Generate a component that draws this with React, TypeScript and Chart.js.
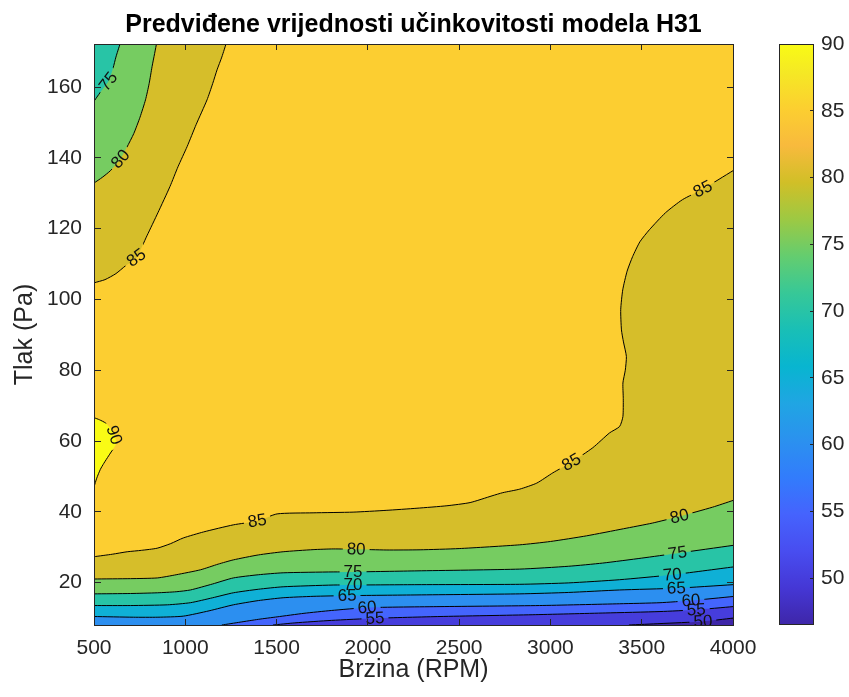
import React, { useEffect, useRef } from "react";
import { Chart, registerables } from "chart.js";

Chart.register(...registerables);

type P = [number, number];

const FONT = '"Liberation Sans", Arial, Helvetica, sans-serif';
Chart.defaults.font.family = FONT;

// ---------- axes / ticks ----------
const xMin = 500;
const xMax = 4000;
const yMin = 8;
const yMax = 172.2;
const xTicks = [500, 1000, 1500, 2000, 2500, 3000, 3500, 4000];
const yTicks = [20, 40, 60, 80, 100, 120, 140, 160];
const cMin = 46.5;
const cMax = 90;
const colorbarTicks = [50, 55, 60, 65, 70, 75, 80, 85, 90];

// ---------- contour lines (Brzina RPM, Tlak Pa) ----------
const c50: P[] = [[3430, 8], [3600, 8.4], [3835, 9.0], [4000, 9.95]];
const c55: P[] = [[1480, 8], [1600, 8.6], [1800, 9.3], [2039, 9.9], [2395, 10.4], [2900, 10.9], [3300, 11.4], [3600, 11.8], [3799, 12.3], [4000, 13.2]];
const c60: P[] = [[1200, 8], [1300, 8.8], [1400, 9.6], [1503, 10.3], [1650, 11.3], [1800, 12.1], [1996, 12.9], [2395, 13.2], [2940, 13.5], [3379, 14.0], [3600, 14.3], [3770, 14.9], [4000, 16.05]];
const c65: P[] = [[500, 10.4], [716, 10.2], [850, 10.2], [989, 10.5], [1130, 12.0], [1263, 13.7], [1400, 14.9], [1536, 15.7], [1700, 16.1], [1886, 16.3], [2269, 16.5], [2832, 16.8], [3100, 17.2], [3379, 17.9], [3690, 18.4], [4000, 19.4]];
const c70: P[] = [[500, 13.5], [700, 13.5], [902, 13.7], [1028, 14.3], [1150, 15.7], [1263, 17.1], [1400, 18.1], [1536, 18.8], [1810, 19.3], [1919, 19.3], [2269, 19.4], [2832, 19.5], [3100, 19.9], [3379, 20.8], [3668, 22.2], [4000, 24.4]];
const c75: P[] = [[500, 16.8], [700, 16.9], [847, 17.1], [950, 17.4], [1028, 17.9], [1150, 19.6], [1263, 21.3], [1400, 22.2], [1536, 22.75], [1810, 23.0], [1919, 23.0], [2269, 23.3], [2832, 23.8], [3100, 24.6], [3286, 25.5], [3500, 26.9], [3696, 28.3], [4000, 30.5]];
const c80: P[] = [[500, 21.0], [700, 21.1], [847, 21.3], [950, 22.2], [1083, 23.6], [1180, 25.2], [1263, 26.4], [1400, 27.8], [1536, 28.7], [1700, 29.3], [1810, 29.5], [1936, 29.4], [2100, 29.2], [2286, 29.25], [2500, 29.6], [2832, 30.66], [3000, 31.6], [3198, 33.2], [3400, 35.2], [3558, 36.8], [3707, 38.7], [3888, 41.3], [4000, 43.2]];
const c85: P[] = [[500, 27.3], [600, 28.0], [682, 28.7], [760, 29.1], [846, 29.7], [920, 31.0], [989, 32.6], [1100, 34.3], [1263, 36.3], [1394, 37.4], [1503, 39.4], [1700, 39.7], [1919, 39.9], [2100, 40.4], [2269, 41.0], [2433, 41.7], [2560, 42.6], [2680, 44.5], [2739, 45.4], [2832, 46.4], [2925, 48.1], [3013, 51.0], [3115, 54.0], [3232, 58.1], [3324, 62.3], [3379, 64.1], [3397, 66.9], [3399, 72], [3397, 76.4], [3410, 80], [3416, 83.9], [3400, 88], [3389, 91.4], [3385, 97.1], [3396, 102.7], [3420, 108], [3450, 112.1], [3490, 116.3], [3542, 119.7], [3630, 124.5], [3723, 128.2], [3835, 131.2], [4000, 136.4]];
const c85TopLeft: P[] = [[500, 104.7], [560, 105.6], [620, 107.3], [672, 109.5], [732, 111.8], [790, 118], [850, 124.5], [916, 131.9], [960, 137.5], [1010, 143.2], [1060, 149.5], [1119, 156.4], [1150, 161], [1174, 164.9], [1200, 168.5], [1228, 173]];
const c80TopLeft: P[] = [[500, 132.9], [545, 134.5], [590, 136.4], [645, 139.7], [680, 143], [718, 146.9], [752, 151.5], [782, 156.4], [802, 161], [818, 165.8], [832, 169.5], [845, 173]];
const c75TopLeft: P[] = [[500, 156], [520, 157.5], [545, 159.3], [579, 161.6], [605, 165.5], [620, 168.5], [635, 171], [648, 173]];
const b90Upper: P[] = [[500, 66.6], [530, 66], [563, 65.1], [590, 63.6], [610, 61.8], [625, 59.5]];
const b90Lower: P[] = [[500, 47.0], [515, 49.5], [535, 52], [554, 53.7], [580, 55.8], [608, 58], [625, 59.5]];

const strokeCurves: [string, P[]][] = [
  ["c50", c50], ["c55", c55], ["c60", c60], ["c65", c65], ["c70", c70], ["c75", c75], ["c80", c80], ["c85", c85],
  ["c85tl", c85TopLeft], ["c80tl", c80TopLeft], ["c75tl", c75TopLeft], ["b90", b90Upper], ["b90", b90Lower],
];

// contour labels: level, curve group, approximate position (data units)
const contourLabels = [
  { level: 75, group: "c75tl", x: 579, y: 161.6 },
  { level: 80, group: "c80tl", x: 645, y: 139.7 },
  { level: 85, group: "c85tl", x: 732, y: 111.8 },
  { level: 90, group: "b90", x: 602, y: 61.5 },
  { level: 85, group: "c85", x: 1394, y: 37.4 },
  { level: 80, group: "c80", x: 1936, y: 29.4 },
  { level: 75, group: "c75", x: 1919, y: 23.0 },
  { level: 70, group: "c70", x: 1919, y: 19.3 },
  { level: 65, group: "c65", x: 1886, y: 16.3 },
  { level: 60, group: "c60", x: 1996, y: 12.9 },
  { level: 55, group: "c55", x: 2039, y: 9.9 },
  { level: 85, group: "c85", x: 3115, y: 54.0 },
  { level: 85, group: "c85", x: 3835, y: 131.2 },
  { level: 80, group: "c80", x: 3707, y: 38.7 },
  { level: 75, group: "c75", x: 3696, y: 28.3 },
  { level: 70, group: "c70", x: 3668, y: 22.2 },
  { level: 65, group: "c65", x: 3690, y: 18.4 },
  { level: 60, group: "c60", x: 3770, y: 14.9 },
  { level: 55, group: "c55", x: 3799, y: 12.3 },
  { level: 50, group: "c50", x: 3835, y: 9.0 },
];

// parula colormap stops [position, r, g, b]
const parula: [number, number, number, number][] = [
  [0 / 63, 62, 38, 168], [4 / 63, 69, 55, 213], [8 / 63, 72, 77, 240], [12 / 63, 69, 99, 253],
  [16 / 63, 50, 124, 252], [20 / 63, 43, 145, 239], [24 / 63, 32, 165, 227], [28 / 63, 8, 181, 208],
  [32 / 63, 25, 191, 182], [36 / 63, 55, 200, 151], [40 / 63, 100, 205, 111], [44 / 63, 157, 201, 67],
  [48 / 63, 209, 191, 39], [52 / 63, 248, 186, 61], [56 / 63, 252, 207, 48], [60 / 63, 245, 233, 36],
  [63 / 63, 249, 251, 21],
];

// ---------- layout / style ----------
const W = 849;
const H = 697;
const plotLeft = 94;
const plotRight = 733;
const plotTop = 44;
const plotBottom = 625;
const cbCanvasLeft = 760;
const cbBarLeft = 779;
const cbBarRight = 814;
const AXIS = "#262626";
const TICK = 6;
const TENSION = 0.2;
const LABEL_FONT = '17px "Liberation Sans", Arial, sans-serif';
const TICK_SIZE = 21;
const LABEL_SIZE = 25;

function cmap(t: number): string {
  const v = Math.min(1, Math.max(0, t));
  for (let i = 0; i < parula.length - 1; i++) {
    const a = parula[i];
    const b = parula[i + 1];
    if (v <= b[0]) {
      const f = (v - a[0]) / (b[0] - a[0]);
      const r = Math.round(a[1] + f * (b[1] - a[1]));
      const g = Math.round(a[2] + f * (b[2] - a[2]));
      const bl = Math.round(a[3] + f * (b[3] - a[3]));
      return `rgb(${r},${g},${bl})`;
    }
  }
  const l = parula[parula.length - 1];
  return `rgb(${l[1]},${l[2]},${l[3]})`;
}
const levelColor = (v: number) => cmap((v - cMin) / (cMax - cMin));
const toXY = (pts: P[]) => pts.map(([x, y]) => ({ x, y }));

function computeLabels(chart: any) {
  const xs = chart.scales.x;
  const ys = chart.scales.y;
  const ctx = chart.ctx;
  ctx.save();
  ctx.font = LABEL_FONT;
  const res = contourLabels.map((lab) => {
    const px = xs.getPixelForValue(lab.x);
    const py = ys.getPixelForValue(lab.y);
    let best = { d: Infinity, x: px, y: py, a: 0 };
    for (const [g, pts] of strokeCurves) {
      if (g !== lab.group) continue;
      for (let i = 0; i < pts.length - 1; i++) {
        const ax = xs.getPixelForValue(pts[i][0]);
        const ay = ys.getPixelForValue(pts[i][1]);
        const bx = xs.getPixelForValue(pts[i + 1][0]);
        const by = ys.getPixelForValue(pts[i + 1][1]);
        const dx = bx - ax;
        const dy = by - ay;
        const L2 = dx * dx + dy * dy || 1;
        let t = ((px - ax) * dx + (py - ay) * dy) / L2;
        t = Math.max(0, Math.min(1, t));
        const qx = ax + t * dx;
        const qy = ay + t * dy;
        const d = Math.hypot(px - qx, py - qy);
        if (d < best.d) best = { d, x: qx, y: qy, a: Math.atan2(dy, dx) };
      }
    }
    let a = best.a;
    while (a > Math.PI / 2) a -= Math.PI;
    while (a <= -Math.PI / 2) a += Math.PI;
    const w = ctx.measureText(String(lab.level)).width;
    return { ...lab, cx: best.x, cy: best.y, a, hw: w / 2 + 4, hh: 9 };
  });
  ctx.restore();
  return res;
}

const contourLabelPlugin = {
  id: "contourLabels",
  beforeDatasetsDraw(chart: any) {
    chart.$cl = computeLabels(chart);
  },
  beforeDatasetDraw(chart: any, args: any) {
    const ds = chart.data.datasets[args.index];
    if (!ds.group) return;
    const ctx = chart.ctx;
    const labs = (chart.$cl || []).filter((l: any) => l.group === ds.group);
    ctx.save();
    ctx.beginPath();
    ctx.rect(0, 0, chart.width, chart.height);
    for (const l of labs) {
      const c = Math.cos(l.a);
      const s = Math.sin(l.a);
      const corners = [[-l.hw, -l.hh], [l.hw, -l.hh], [l.hw, l.hh], [-l.hw, l.hh]];
      corners.forEach(([u, v], i) => {
        const X = l.cx + u * c - v * s;
        const Y = l.cy + u * s + v * c;
        if (i === 0) ctx.moveTo(X, Y);
        else ctx.lineTo(X, Y);
      });
      ctx.closePath();
    }
    ctx.clip("evenodd");
  },
  afterDatasetDraw(chart: any, args: any) {
    const ds = chart.data.datasets[args.index];
    if (ds.group) chart.ctx.restore();
  },
  afterDatasetsDraw(chart: any) {
    const ctx = chart.ctx;
    const a = chart.chartArea;
    ctx.save();
    ctx.beginPath();
    ctx.rect(a.left, a.top, a.right - a.left, a.bottom - a.top);
    ctx.clip();
    ctx.font = LABEL_FONT;
    ctx.fillStyle = "#111";
    ctx.textAlign = "center";
    ctx.textBaseline = "middle";
    for (const l of chart.$cl || []) {
      ctx.save();
      ctx.translate(l.cx, l.cy);
      ctx.rotate(l.a);
      ctx.fillText(String(l.level), 0, 0.5);
      ctx.restore();
    }
    ctx.restore();
  },
};

function buildMainConfig(): any {
  const datasets: any[] = [];
  let order = 1000;
  const addFill = (pts: P[], level: number) => {
    datasets.push({
      data: toXY(pts),
      fill: "end",
      backgroundColor: levelColor(level),
      borderColor: "transparent",
      borderWidth: 0,
      pointRadius: 0,
      pointHoverRadius: 0,
      tension: TENSION,
      order: order--,
    });
  };
  addFill([[xMin, yMin], [xMax, yMin]], cMin);
  addFill([[xMin, yMin], ...c50], 50);
  addFill([[xMin, yMin], ...c55], 55);
  addFill([[xMin, yMin], ...c60], 60);
  addFill(c65, 65);
  addFill(c70, 70);
  addFill(c75, 75);
  addFill(c80, 80);
  addFill(c85, 85);
  addFill(c85TopLeft, 80);
  addFill(c80TopLeft, 75);
  addFill(c75TopLeft, 70);
  const lowerIndex = datasets.length;
  datasets.push({
    data: toXY(b90Lower), fill: false, borderColor: "transparent", borderWidth: 0,
    pointRadius: 0, pointHoverRadius: 0, tension: TENSION, order: order--,
  });
  datasets.push({
    data: toXY(b90Upper), fill: lowerIndex, backgroundColor: levelColor(90), borderColor: "transparent",
    borderWidth: 0, pointRadius: 0, pointHoverRadius: 0, tension: TENSION, order: order--,
  });
  for (const [group, pts] of strokeCurves) {
    datasets.push({
      data: toXY(pts), group, fill: false, borderColor: "#000", borderWidth: 1,
      pointRadius: 0, pointHoverRadius: 0, tension: TENSION, order: 0,
    });
  }
  const plotW = plotRight - plotLeft;
  const plotH = plotBottom - plotTop;
  return {
    type: "line",
    data: { datasets },
    plugins: [contourLabelPlugin],
    options: {
      responsive: false,
      animation: false,
      events: [],
      devicePixelRatio: 1,
      layout: { padding: { left: 0, top: 0, bottom: 0, right: W - plotRight } },
      plugins: {
        legend: { display: false },
        tooltip: { enabled: false },
        title: {
          display: true,
          text: "Predviđene vrijednosti učinkovitosti modela H31",
          font: { size: LABEL_SIZE, weight: "bold" },
          color: "#000",
          padding: { top: 10, bottom: 4 },
          fullSize: false,
        },
      },
      scales: {
        x: {
          type: "linear", position: "bottom", min: xMin, max: xMax,
          afterBuildTicks: (s: any) => { s.ticks = xTicks.map((v) => ({ value: v })); },
          afterFit: (s: any) => { s.height = H - plotBottom; },
          ticks: { font: { size: TICK_SIZE }, color: AXIS, padding: 11, maxRotation: 0, autoSkip: false, callback: (v: any) => String(v) },
          grid: { drawOnChartArea: true, drawTicks: false, color: AXIS, lineWidth: 1, z: 1 },
          border: { display: true, color: AXIS, width: 1, dash: [TICK, plotH - 2 * TICK], z: 1 },
          title: { display: true, text: "Brzina (RPM)", font: { size: LABEL_SIZE }, color: AXIS, padding: { top: 0, bottom: 12 } },
        },
        y: {
          type: "linear", position: "left", min: yMin, max: yMax,
          afterBuildTicks: (s: any) => { s.ticks = yTicks.map((v) => ({ value: v })); },
          afterFit: (s: any) => { s.width = plotLeft; },
          ticks: { font: { size: TICK_SIZE }, color: AXIS, padding: 12, autoSkip: false, callback: (v: any) => String(v) },
          grid: { drawOnChartArea: true, drawTicks: false, color: AXIS, lineWidth: 1, z: 1 },
          border: { display: true, color: AXIS, width: 1, dash: [TICK, plotW - 1 - 2 * TICK], z: 1 },
          title: { display: true, text: "Tlak (Pa)", font: { size: LABEL_SIZE }, color: AXIS, padding: { top: 10, bottom: 0 } },
        },
        x2: {
          type: "linear", position: "top", min: xMin, max: xMax,
          afterFit: (s: any) => { s.height = 0; },
          ticks: { display: false },
          grid: { display: false, drawTicks: false },
          border: { display: true, color: AXIS, width: 1, z: 1 },
        },
        y2: {
          type: "linear", position: "right", min: yMin, max: yMax,
          afterFit: (s: any) => { s.width = 0; },
          ticks: { display: false },
          grid: { display: false, drawTicks: false },
          border: { display: true, color: AXIS, width: 1, z: 1 },
        },
      },
    },
  };
}

function buildColorbarConfig(): any {
  const cbW = W - cbCanvasLeft;
  return {
    type: "bar",
    data: {
      labels: [""],
      datasets: [
        {
          data: [[cMin, cMax]],
          backgroundColor: (c: any) => {
            const chart = c.chart;
            if (!chart.chartArea || !chart.scales.y) return levelColor(70);
            const ys = chart.scales.y;
            const g = chart.ctx.createLinearGradient(0, ys.getPixelForValue(cMin), 0, ys.getPixelForValue(cMax));
            parula.forEach(([p, r, gg, b]) => g.addColorStop(p, `rgb(${r},${gg},${b})`));
            return g;
          },
          borderColor: AXIS,
          borderWidth: 1,
          borderSkipped: false,
          inflateAmount: 0,
          barPercentage: 1,
          categoryPercentage: 1,
        },
      ],
    },
    options: {
      responsive: false,
      animation: false,
      events: [],
      devicePixelRatio: 1,
      layout: { padding: { left: cbBarLeft - cbCanvasLeft, top: plotTop, bottom: H - plotBottom, right: 0 } },
      plugins: { legend: { display: false }, tooltip: { enabled: false }, title: { display: false } },
      scales: {
        x: { display: false },
        y: {
          position: "right", min: cMin, max: cMax,
          afterBuildTicks: (s: any) => { s.ticks = colorbarTicks.map((v) => ({ value: v })); },
          afterFit: (s: any) => { s.width = cbW - (cbBarRight - cbCanvasLeft); },
          ticks: { font: { size: TICK_SIZE }, color: AXIS, padding: 7, autoSkip: false, callback: (v: any) => String(v) },
          grid: { drawOnChartArea: true, drawTicks: false, color: AXIS, lineWidth: 1, z: 1 },
          border: { display: false, dash: [0, 31, 4, 0] },
        },
      },
    },
  };
}

export default function App() {
  const mainRef = useRef<HTMLCanvasElement>(null);
  const cbRef = useRef<HTMLCanvasElement>(null);
  useEffect(() => {
    const main = new Chart(mainRef.current as HTMLCanvasElement, buildMainConfig());
    const cb = new Chart(cbRef.current as HTMLCanvasElement, buildColorbarConfig());
    return () => {
      main.destroy();
      cb.destroy();
    };
  }, []);
  return (
    <div style={{ position: "absolute", left: 0, top: 0, width: W, height: H, background: "#fff" }}>
      <canvas ref={mainRef} width={W} height={H} style={{ position: "absolute", left: 0, top: 0 }} />
      <canvas ref={cbRef} width={W - cbCanvasLeft} height={H} style={{ position: "absolute", left: cbCanvasLeft, top: 0 }} />
    </div>
  );
}
